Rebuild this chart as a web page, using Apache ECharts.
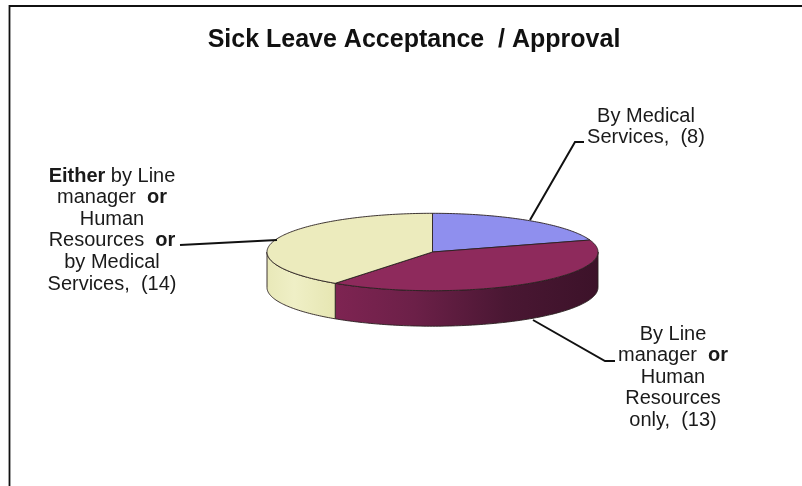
<!DOCTYPE html>
<html><head><meta charset="utf-8">
<style>html,body{margin:0;padding:0;background:#fff}#c{width:802px;height:486px}</style>
<script src="https://cdn.jsdelivr.net/npm/echarts@6/dist/echarts.min.js"></script>
</head><body><div id="c"></div>
<script>
const titleText = 'Sick Leave Acceptance  / Approval';
const categories = ['By Medical Services', 'By Line manager or Human Resources only', 'Either by Line manager or Human Resources or by Medical Services'];
const counts = [8, 13, 14];
// slice sizes as drawn in the picture (percent of the full circle)
const sliceShares = [20, 40, 40];
const labelLines = [
  ['By Medical', 'Services,  ({n})'],
  ['By Line', 'manager  {b|or}', 'Human', 'Resources', 'only,  ({n})'],
  ['{b|Either} by Line', 'manager  {b|or}', 'Human', 'Resources  {b|or}', 'by Medical', 'Services,  ({n})']
];
const topColors = ['#8f8fee', '#8e2a5c', '#ecebbd'];
const wallGradients = [
  null,
  [[0, '#7e2452'], [0.3, '#6c2048'], [0.65, '#4a1733'], [1, '#3c1229']],
  [[0, '#e6e6b2'], [0.6, '#efefc6'], [1, '#e8e8b8']]
];

const CX = 432.5, CY = 252, RX = 165.5, RY = 38.7, DEPTH = 35.5;
const labelCenters = [[646, 115], [673, 333], [112, 175]];
const LINE_H = 21.6;
const FONT = '"Liberation Sans", Arial, sans-serif';
const leaders = [
  [[530, 220], [575, 142], [584, 142]],
  [[533, 320], [605, 361], [615, 361]],
  [[277, 240], [180, 245]]
];

const total = sliceShares.reduce((a, b) => a + b, 0);
const pt = (deg, dy) => {
  const r = deg * Math.PI / 180;
  return [CX + RX * Math.sin(r), CY - RY * Math.cos(r) + (dy || 0)];
};
const arc = (a, b, dy) => {
  const out = [], n = Math.max(2, Math.ceil(Math.abs(b - a)));
  for (let i = 0; i <= n; i++) out.push(pt(a + (b - a) * i / n, dy));
  return out;
};

function renderSlice(params, api) {
  const i = params.dataIndex;
  let start = 0;
  for (let k = 0; k < i; k++) start += sliceShares[k] / total * 360;
  const end = start + api.value(0) / total * 360;
  const children = [];
  // front wall: only the part between 90 and 270 degrees faces the viewer
  const a = Math.max(start, 90), b = Math.min(end, 270);
  if (b > a && wallGradients[i]) {
    const upper = arc(a, b, 0), lower = arc(b, a, DEPTH);
    children.push({
      type: 'polygon', z2: 1,
      shape: { points: upper.concat(lower) },
      style: {
        fill: new echarts.graphic.LinearGradient(
          i === 1 ? 0 : 1, 0, i === 1 ? 1 : 0, 0,
          wallGradients[i].map(s => ({ offset: s[0], color: s[1] }))
        ),
        stroke: '#2a2020', lineWidth: 0.9, lineJoin: 'round'
      }
    });
  }
  children.push({
    type: 'polygon', z2: 2,
    shape: { points: [[CX, CY]].concat(arc(start, end, 0)) },
    style: { fill: topColors[i], stroke: '#2a2020', lineWidth: 0.9, lineJoin: 'round' }
  });
  children.push({
    type: 'polyline', z2: 3,
    shape: { points: leaders[i] },
    style: { fill: null, stroke: '#111', lineWidth: 2 }
  });
  const [lx, ly] = labelCenters[i];
  labelLines[i].forEach((ln, j) => {
    children.push({
      type: 'text', z2: 4, x: lx, y: ly + j * LINE_H + 1,
      style: {
        text: ln.replace('{n}', counts[i]),
        align: 'center', verticalAlign: 'middle',
        font: '20px ' + FONT, fill: '#1a1a1a',
        rich: { b: { font: 'bold 20px ' + FONT, fill: '#1a1a1a' } }
      }
    });
  });
  return { type: 'group', children };
}

const chart = echarts.init(document.getElementById('c'), null, { renderer: 'canvas' });
chart.setOption({
  animation: false,
  backgroundColor: '#fff',
  title: {
    text: titleText, left: 409, top: 23, textAlign: 'center',
    textStyle: { fontFamily: FONT, fontSize: 25, fontWeight: 'bold', color: '#111' }
  },
  graphic: [{
    type: 'polyline', silent: true,
    shape: { points: [[9.5, 486], [9.5, 6], [802, 6]] },
    style: { fill: null, stroke: '#111', lineWidth: 1.8 }
  }],
  series: [{
    type: 'custom', coordinateSystem: 'none', silent: true,
    data: sliceShares.map((v, i) => ({ name: categories[i], value: [v] })),
    renderItem: renderSlice
  }]
});
</script></body></html>
